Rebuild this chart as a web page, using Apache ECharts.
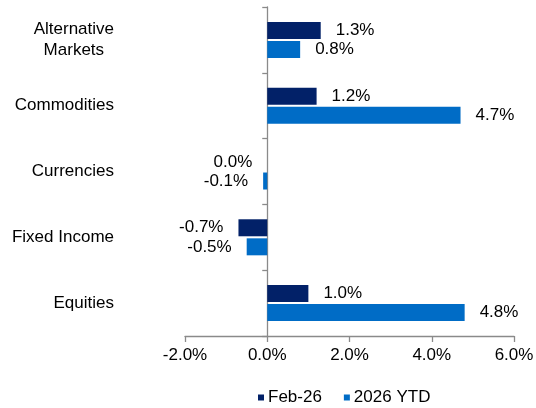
<!DOCTYPE html>
<html><head><meta charset="utf-8">
<script src="https://cdn.jsdelivr.net/npm/echarts@6/dist/echarts.min.js"></script>
<style>html,body{margin:0;padding:0;background:#fff}#c{width:536px;height:408px}</style>
</head><body><div id="c"></div>
<script>
const categories = ['Alternative\nMarkets', 'Commodities', 'Currencies', 'Fixed Income', 'Equities'];
const seriesNames = ['Feb-26', '2026 YTD'];
const feb26 = [1.3, 1.2, 0.0, -0.7, 1.0];
const ytd2026 = [0.8, 4.7, -0.1, -0.5, 4.8];
const colors = ['#022168', '#006CC6'];
const FONT = 'Liberation Sans, Arial, sans-serif';
const FS = 17;

function mk(vals) {
  return vals.map(v => ({ value: v, label: { position: v > 0 ? 'right' : 'left' } }));
}
const chart = echarts.init(document.getElementById('c'), null, { renderer: 'canvas' });
chart.setOption({
  animation: false,
  textStyle: { fontFamily: FONT },
  grid: { left: 185, right: 22, top: 7, bottom: 72, containLabel: false, outerBoundsMode: 'none' },
  legend: {
    data: seriesNames, left: 253, top: 384, itemWidth: 6, itemHeight: 6, itemGap: 22,
    icon: 'rect',
    textStyle: { fontSize: FS, color: '#000', fontFamily: FONT, padding: [0, 0, 0, -1] }
  },
  xAxis: {
    type: 'value', min: -2, max: 6, interval: 2,
    axisLine: { show: true, lineStyle: { color: '#8a8a8a', width: 1.3 } },
    axisTick: { show: true, length: 6, lineStyle: { color: '#8a8a8a', width: 1.3 } },
    splitLine: { show: false },
    axisLabel: { fontSize: FS, color: '#000', margin: 11, formatter: v => v.toFixed(1) + '%' }
  },
  yAxis: {
    type: 'category', data: categories, inverse: true,
    axisLine: { show: true, onZero: true, lineStyle: { color: '#8a8a8a', width: 1.3 } },
    axisTick: { show: true, length: 5, lineStyle: { color: '#8a8a8a', width: 1.3 } },
    axisLabel: {
      fontSize: FS, color: '#000', margin: 71, lineHeight: 21,
      formatter: v => v.split('\n').map(s => '{c|' + s + '}').join('\n'),
      rich: { c: { align: 'center', fontSize: FS, color: '#000', fontFamily: FONT, lineHeight: 21 } }
    }
  },
  series: [feb26, ytd2026].map((vals, i) => ({
    name: seriesNames[i], type: 'bar', data: mk(vals),
    barWidth: 17, barGap: '12%',
    itemStyle: { color: colors[i] },
    label: {
      show: true, distance: 15, fontSize: FS, color: '#000', fontFamily: FONT,
      formatter: p => p.value.toFixed(1) + '%'
    }
  }))
});
</script></body></html>
